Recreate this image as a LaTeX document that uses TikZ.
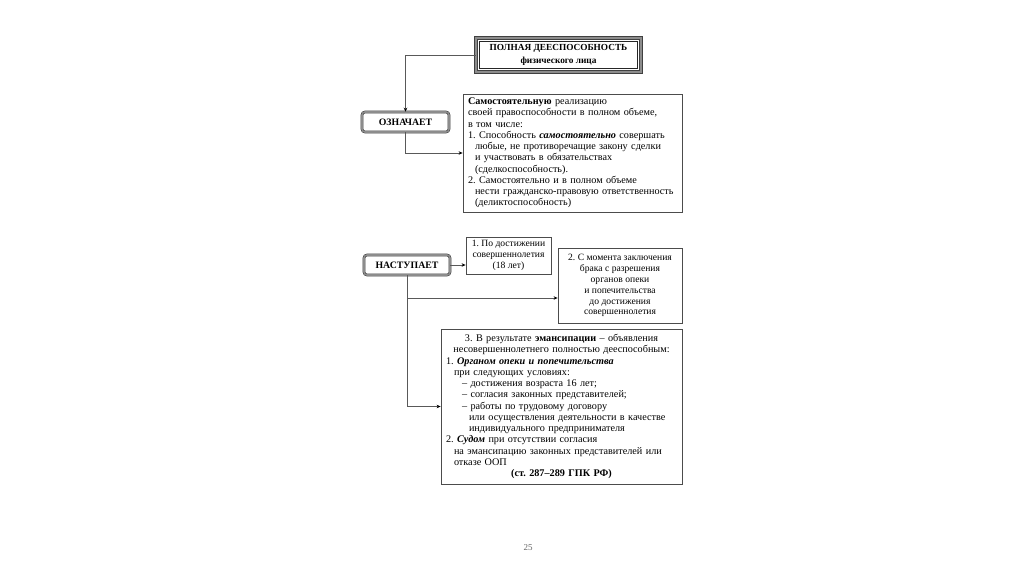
\documentclass[tikz,border=0pt]{standalone}
\usepackage{fontspec}
\setmainfont{Liberation Serif}
\usetikzlibrary{positioning,arrows.meta}

\begin{document}
\frenchspacing
\begin{tikzpicture}[
    x=1pt, y=-1pt,
    font=\fontsize{10.2}{11.25}\selectfont,
    titlebox/.style={rectangle, draw=black!75, line width=0.6pt, double=black!45, double distance=2pt, minimum width=165pt, minimum height=34pt, align=center, font=\fontsize{9.3}{12.5}\selectfont\bfseries},
    keybox/.style={rectangle, draw=black!80, line width=0.5pt, double=black!45, double distance=1.6pt, rounded corners=3pt, minimum height=20pt, align=center, font=\fontsize{9.8}{11}\selectfont\bfseries},
    infobox/.style={rectangle, draw=black!70, line width=0.8pt, inner xsep=5pt, inner ysep=2pt},
    smallbox/.style={infobox, inner xsep=2pt, align=center, font=\fontsize{9.6}{10.9}\selectfont},
    link/.style={draw=black!65, line width=0.8pt, -{Stealth[length=4pt,width=3.5pt,black]}}
]
\useasboundingbox (0,0) rectangle (1024,574);

% Title
\node[titlebox] (full) at (558.5,55) {ПОЛНАЯ ДЕЕСПОСОБНОСТЬ\\физического лица};
\draw[black!85, line width=0.6pt] ([xshift=4pt,yshift=-4pt]full.north west) rectangle ([xshift=-4pt,yshift=4pt]full.south east);

% What it means
\node[keybox, minimum width=87pt] (means) at (405.5,122) {ОЗНАЧАЕТ};
\node[infobox, text width=209pt, minimum height=118pt, align=left] (rights) at (572.5,153) {%
\textbf{Самостоятельную} реализацию\\
своей правоспособности в полном объеме,\\
в том числе:\\
1. Способность \textbf{\textit{самостоятельно}} совершать\\
\hspace*{7pt}любые, не противоречащие закону сделки\\
\hspace*{7pt}и участвовать в обязательствах\\
\hspace*{7pt}(сделкоспособность).\\
2. Самостоятельно и в полном объеме\\
\hspace*{7pt}нести гражданско-правовую ответственность\\
\hspace*{7pt}(деликтоспособность)};

% When it starts
\node[keybox, minimum width=86pt] (starts) at (407,265) {НАСТУПАЕТ};
\node[smallbox, minimum width=85pt, minimum height=37pt] (age) at (508.5,255.5) {1. По достижении\\совершеннолетия\\(18 лет)};
\node[smallbox, minimum width=124pt, minimum height=75pt] (marriage) at (620,285.5) {2. С момента заключения\\брака с разрешения\\органов опеки\\и попечительства\\до достижения\\совершеннолетия};
\node[infobox, text width=231pt, minimum height=155pt, align=left] (emanc) at (561.5,406.5) {%
\makebox[231pt][c]{3. В результате \textbf{эмансипации} -- объявления}\\
\makebox[231pt][c]{несовершеннолетнего полностью дееспособным:}\\
1. \textbf{\textit{Органом опеки и попечительства}}\\
\hspace*{8pt}при следующих условиях:\\
\hspace*{16pt}-- достижения возраста 16 лет;\\
\hspace*{16pt}-- согласия законных представителей;\\
\hspace*{16pt}-- работы по трудовому договору\\
\hspace*{23pt}или осуществления деятельности в качестве\\
\hspace*{23pt}индивидуального предпринимателя\\
2. \textbf{\textit{Судом}} при отсутствии согласия\\
\hspace*{8pt}на эмансипацию законных представителей или\\
\hspace*{8pt}отказе ООП\\
\makebox[231pt][c]{\textbf{(ст. 287--289 ГПК РФ)}}};

% Connectors
\draw[link] (full.west) -| (means.north);
\draw[link] (means.south) |- (rights.west);
\draw[link] (starts.east) -- (starts.east -| age.west);
\coordinate (branch) at (starts.south |- 0,298);
\draw[link] (starts.south) |- (emanc.west);
\draw[link] (branch) -- (branch -| marriage.west);

% Page number
\node[text=black!60, font=\fontsize{9}{10}\selectfont] (page) at (528,548) {25};
\end{tikzpicture}
\end{document}
